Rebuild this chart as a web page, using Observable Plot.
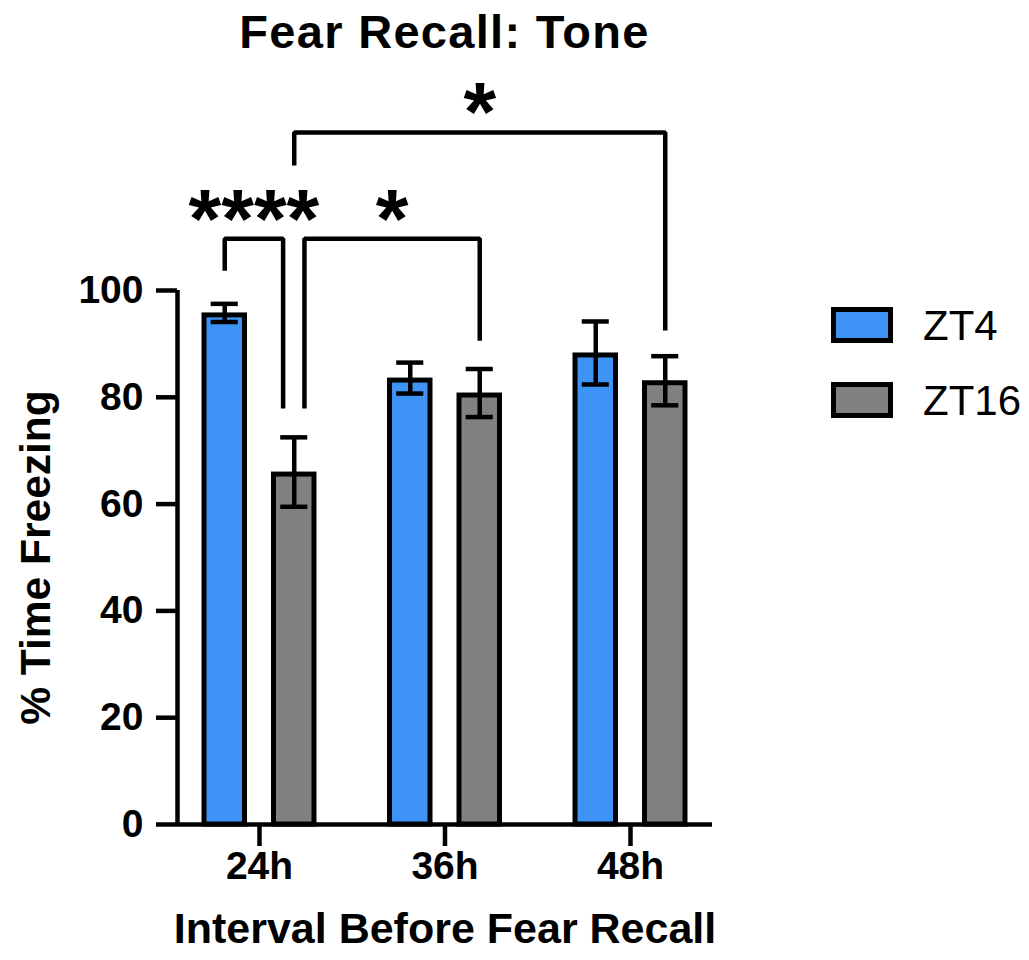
<!DOCTYPE html>
<html>
<head>
<meta charset="utf-8">
<script src="https://cdn.jsdelivr.net/npm/d3@7"></script>
<script src="https://cdn.jsdelivr.net/npm/@observablehq/plot@0.6"></script>
<style>
  body { margin: 0; background: #fff; }
  #chart { position: relative; width: 1029px; height: 960px; font-family: "Liberation Sans", Arial, Helvetica, sans-serif; color: #000; }
  #chart svg { position: absolute; left: 0; top: 0; }
  #title { position: absolute; left: 177px; width: 535px; top: 8px; text-align: center; font-weight: bold; font-size: 47px; line-height: 1; letter-spacing: 1.3px; white-space: nowrap; }
  .swatch { position: absolute; box-sizing: border-box; border: 5px solid #000; width: 62px; height: 36px; left: 831px; }
  .key { position: absolute; left: 923px; font-size: 42px; line-height: 1; white-space: nowrap; }
</style>
</head>
<body>
<div id="chart"><div id="title">Fear Recall: Tone</div></div>
<script>
// Freezing during tone recall, mean ± SEM per recall interval and training phase
const intervals = ["24h", "36h", "48h"];
const seriesNames = ["ZT4", "ZT16"];
const seriesColors = ["#3d94f6", "#808080"];
const zt4Mean = [95.8, 83.6, 88.3];
const zt4Sem = [1.7, 2.9, 5.9];
const zt16Mean = [66.0, 80.8, 83.1];
const zt16Sem = [6.5, 4.5, 4.6];
const yTicks = [0, 20, 40, 60, 80, 100];

// Post-hoc comparisons: the two bars compared, the bracket height and where each leg ends (% units)
const compFrom = [["24h", "ZT4"], ["24h", "ZT16"], ["24h", "ZT16"]];
const compTo = [["24h", "ZT16"], ["36h", "ZT16"], ["48h", "ZT16"]];
const compLabel = ["****", "*", "*"];
const compTop = [109.7, 109.7, 129.6];
const compEndFrom = [103.7, 77.9, 123.4];
const compEndTo = [77.9, 90.6, 92.5];

// Layout (x in group units: one unit between interval groups)
const groupPad = 0.442;
const barOffset = 0.1873;
const barHalf = 0.1226;
const capHalf = 0.073;
const legNudgeFrom = [0, 0.055, 0];
const legNudgeTo = [-0.06, 0, 0];

const pos = (interval, series) =>
  intervals.indexOf(interval) + (series === seriesNames[0] ? -barOffset : barOffset);

const rows = [];
intervals.forEach((iv, i) => {
  rows.push({interval: iv, series: seriesNames[0], mean: zt4Mean[i], sem: zt4Sem[i], pos: pos(iv, seriesNames[0])});
  rows.push({interval: iv, series: seriesNames[1], mean: zt16Mean[i], sem: zt16Sem[i], pos: pos(iv, seriesNames[1])});
});

const comps = compLabel.map((label, i) => {
  const xa = pos(...compFrom[i]) + legNudgeFrom[i];
  const xb = pos(...compTo[i]) + legNudgeTo[i];
  return {id: i, label, top: compTop[i], xa, xb, mid: (xa + xb) / 2, endA: compEndFrom[i], endB: compEndTo[i]};
});
const bracketPts = comps.flatMap(c => [
  {id: c.id, x: c.xa, y: c.endA},
  {id: c.id, x: c.xa, y: c.top},
  {id: c.id, x: c.xb, y: c.top},
  {id: c.id, x: c.xb, y: c.endB}
]);

const xDomain = [-groupPad, intervals.length - 1 + groupPad];
const font = "Liberation Sans, Arial, Helvetica, sans-serif";

const chart = Plot.plot({
  width: 1029,
  height: 960,
  marginLeft: 177,
  marginRight: 317,
  marginTop: 290,
  marginBottom: 136,
  x: {domain: xDomain},
  y: {domain: [0, 100]},
  color: {domain: seriesNames, range: seriesColors},
  style: {fontFamily: font, color: "#000", background: "transparent", overflow: "visible"},
  marks: [
    Plot.rect(rows, {
      x1: d => d.pos - barHalf, x2: d => d.pos + barHalf, y1: () => 0, y2: "mean",
      fill: "series", stroke: "#000", strokeWidth: 5,
      insetTop: 2.5, insetLeft: 2.5, insetRight: 2.5
    }),
    Plot.ruleX(rows, {x: "pos", y1: d => d.mean - d.sem, y2: d => d.mean + d.sem, strokeWidth: 4.5}),
    Plot.ruleY(rows, {y: d => d.mean + d.sem, x1: d => d.pos - capHalf, x2: d => d.pos + capHalf, strokeWidth: 4.5}),
    Plot.ruleY(rows, {y: d => d.mean - d.sem, x1: d => d.pos - capHalf, x2: d => d.pos + capHalf, strokeWidth: 4.5}),
    Plot.ruleX([xDomain[0]], {y1: 0, y2: 100, strokeWidth: 4.5}),
    Plot.ruleY([0], {x1: xDomain[0], x2: xDomain[1], strokeWidth: 4.5}),
    Plot.axisY({
      ticks: yTicks, tickSize: 21, tickPadding: 13, strokeWidth: 4.5,
      fontSize: 39, fontWeight: "bold", label: null
    }),
    Plot.axisX({
      ticks: intervals.map((_, i) => i), tickFormat: i => intervals[i],
      tickSize: 22, tickPadding: 5, strokeWidth: 4.5,
      fontSize: 39, fontWeight: "bold", label: null
    }),
    Plot.text(["% Time Freezing"], {
      frameAnchor: "left", textAnchor: "middle", dx: -141, rotate: -90,
      fontSize: 42.5, fontWeight: "bold"
    }),
    Plot.text(["Interval Before Fear Recall"], {
      frameAnchor: "bottom", textAnchor: "middle", dy: 118.6,
      fontSize: 43, fontWeight: "bold"
    }),
    Plot.line(bracketPts, {
      x: "x", y: "y", z: "id", stroke: "#000", strokeWidth: 4.5,
      strokeLinejoin: "miter", strokeLinecap: "butt"
    }),
    Plot.text(comps, {
      x: "mid", y: "top", text: "label", dy: -18,
      fontSize: 84, fontWeight: "bold"
    })
  ]
});

const root = document.getElementById("chart");
root.appendChild(chart);

// Legend: one outlined swatch per series
const keyTops = [307, 382];
const textTops = [305, 380];
seriesNames.forEach((name, i) => {
  const sw = document.createElement("div");
  sw.className = "swatch";
  sw.style.top = keyTops[i] + "px";
  sw.style.background = seriesColors[i];
  root.appendChild(sw);
  const t = document.createElement("div");
  t.className = "key";
  t.style.top = textTops[i] + "px";
  t.textContent = name;
  root.appendChild(t);
});
</script>
</body>
</html>
